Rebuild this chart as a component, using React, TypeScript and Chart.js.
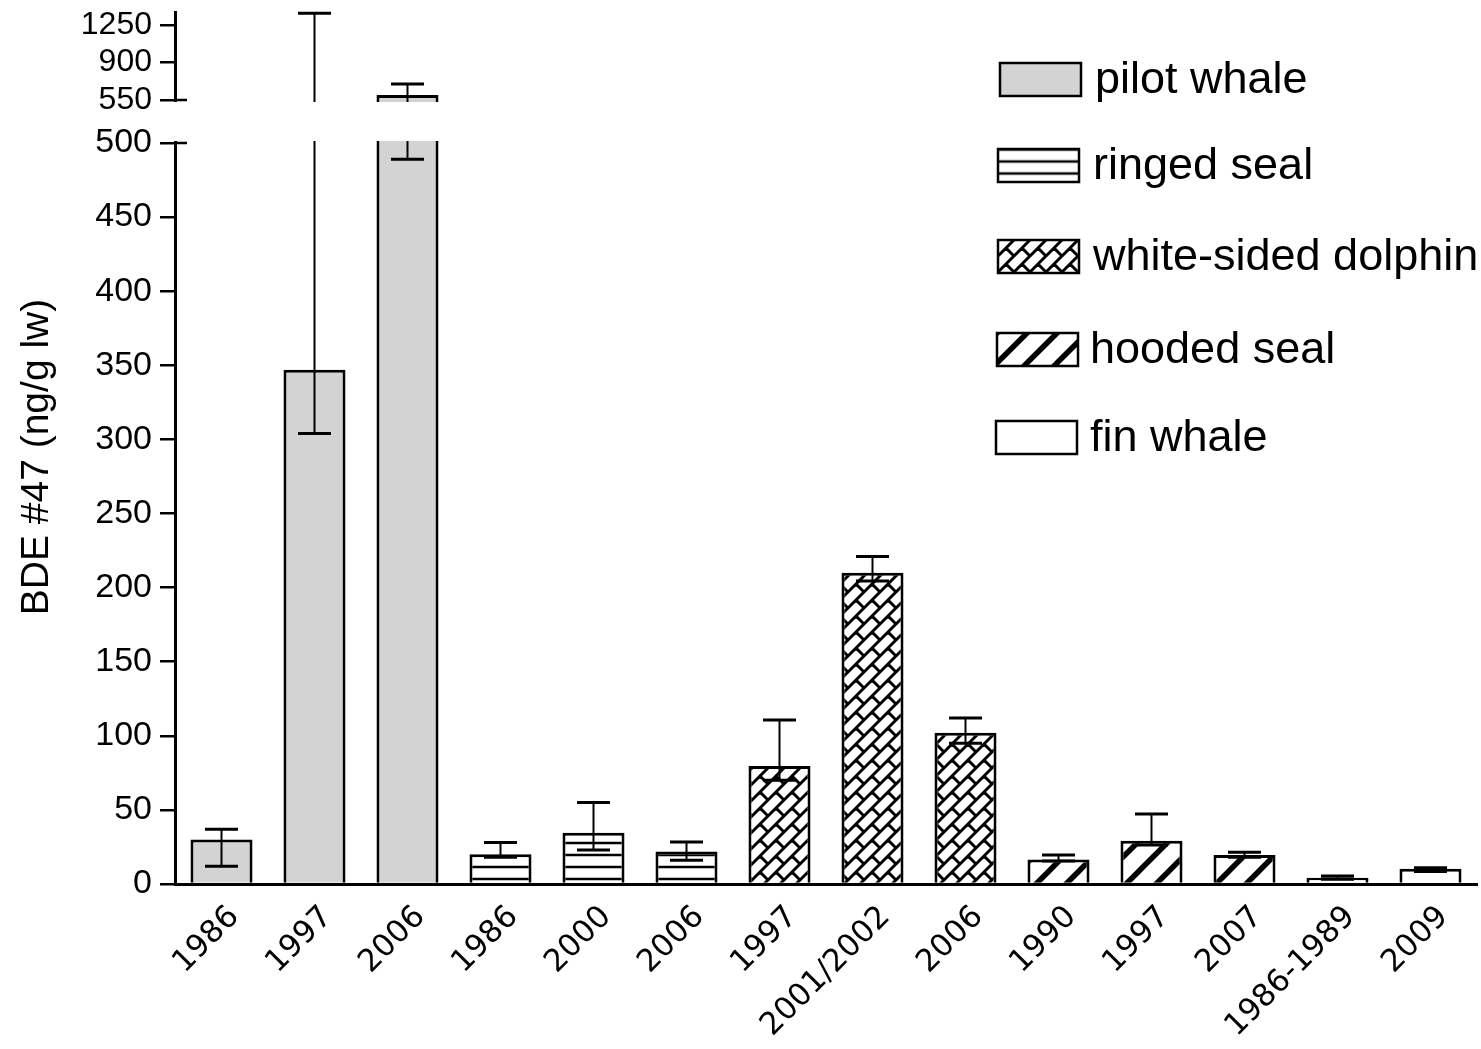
import React, { useEffect, useRef } from 'react';
import { Chart, registerables } from 'chart.js';

Chart.register(...registerables);

// ---------------- data ----------------
const categories = ['1986', '1997', '2006', '1986', '2000', '2006', '1997', '2001/2002', '2006', '1990', '1997', '2007', '1986-1989', '2009'];
const speciesNames = ['pilot whale', 'ringed seal', 'white-sided dolphin', 'hooded seal', 'fin whale'];
const speciesOfBar = [0, 0, 0, 1, 1, 1, 2, 2, 2, 3, 3, 3, 4, 4];
const meanValues = [30, 347, 597, 20, 34.6, 22, 79.6, 210, 102, 16.6, 29.2, 19.6, 4.3, 10.3];
const errorLow = [12, 304, 489, 18, 23, 16, 70, 204.5, 95, 15.6, 26.3, 18, 3.2, 8.5];
const errorHigh = [37, 1360, 700, 28, 55, 28.3, 110.7, 221, 112, 19.6, 47.2, 21.4, 5.4, 11];
const yTickValues = [0, 50, 100, 150, 200, 250, 300, 350, 400, 450, 500, 550, 900, 1250];
const yAxisTitle = 'BDE #47 (ng/g lw)';

// broken axis definition (display units)
const BREAK_LOW = 500;
const BREAK_HIGH = 550;
const GAP = 29;
const UPPER_SCALE = 0.0723;
const Y_MAX_DISPLAY = 588.4;

const toDisplay = (v: number) => (v <= BREAK_LOW ? v : BREAK_LOW + GAP + (v - BREAK_HIGH) * UPPER_SCALE);

// ---------------- layout / style ----------------
const W = 1481;
const H = 1049;
const legendLayout = [
  { x: 1000, y: 63, tx: 1095, shift: 0 },
  { x: 998, y: 149, tx: 1093, shift: 9.5 },
  { x: 998, y: 240, tx: 1093, shift: 0 },
  { x: 997, y: 333, tx: 1090, shift: 0 },
  { x: 996, y: 421, tx: 1090, shift: 0 },
];
const LEGEND_W = 81;
const LEGEND_H = 33;
const TITLE_POS = { x: 37, y: 457 };

function makePattern(size: number, draw: (g: CanvasRenderingContext2D, s: number) => void): CanvasPattern | string {
  const c = document.createElement('canvas');
  c.width = size;
  c.height = size;
  const g = c.getContext('2d');
  if (!g) return 'white';
  g.fillStyle = 'white';
  g.fillRect(0, 0, size, size);
  g.strokeStyle = 'black';
  draw(g, size);
  return g.createPattern(c, 'repeat') || 'white';
}

function buildFills(): (CanvasPattern | string)[] {
  const ringed = makePattern(12, (g, s) => {
    g.lineWidth = 2.5;
    g.beginPath();
    g.moveTo(0, 3);
    g.lineTo(s, 3);
    g.stroke();
  });
  const dolphin = makePattern(16, (g, S) => {
    g.lineWidth = 3;
    g.beginPath();
    for (const c of [0, S, 2 * S]) {
      g.moveTo(-3, c + 3);
      g.lineTo(c + 3, -3);
    }
    const segs = [
      [S / 2, S / 2, S, S],
      [-S / 2, -S / 2, 0, 0],
      [-S / 2, S / 2, 0, S],
      [S / 2, -S / 2, S, 0],
    ];
    for (const [a, b, c2, d] of segs) {
      g.moveTo(a, b);
      g.lineTo(c2, d);
    }
    g.stroke();
  });
  const hooded = makePattern(30, (g, P) => {
    g.lineWidth = 5.5;
    g.beginPath();
    for (const c of [0, P, 2 * P]) {
      g.moveTo(-4, c + 4);
      g.lineTo(c + 4, -4);
    }
    g.stroke();
  });
  return ['#d3d3d3', ringed, dolphin, hooded, '#ffffff'];
}

export default function App() {
  const ref = useRef<HTMLCanvasElement>(null);

  useEffect(() => {
    const canvas = ref.current;
    if (!canvas) return;
    const fills = buildFills();

    const datasets = speciesNames.map((name, s) => ({
      label: name,
      data: categories.map((_, i) => (speciesOfBar[i] === s ? toDisplay(meanValues[i]) : null)),
      backgroundColor: fills[s] as any,
      borderColor: '#000',
      borderWidth: 3,
      grouped: false,
      categoryPercentage: 1,
      barPercentage: 0.667,
    }));

    const breakPlugin = {
      id: 'breakAndErrors',
      afterDatasetsDraw(chart: any) {
        const ctx: CanvasRenderingContext2D = chart.ctx;
        const y = chart.scales.y;
        const area = chart.chartArea;
        ctx.save();
        ctx.strokeStyle = '#000';
        ctx.lineCap = 'butt';
        chart.data.datasets.forEach((ds: any, di: number) => {
          const meta = chart.getDatasetMeta(di);
          meta.data.forEach((el: any, i: number) => {
            if (ds.data[i] == null) return;
            const cx = el.x;
            const yl = y.getPixelForValue(toDisplay(errorLow[i]));
            const yh = y.getPixelForValue(toDisplay(errorHigh[i]));
            ctx.lineWidth = 2;
            ctx.beginPath();
            ctx.moveTo(cx, yl);
            ctx.lineTo(cx, yh);
            ctx.stroke();
            ctx.lineWidth = 3;
            ctx.beginPath();
            ctx.moveTo(cx - 16.5, yl);
            ctx.lineTo(cx + 16.5, yl);
            ctx.moveTo(cx - 16.5, yh);
            ctx.lineTo(cx + 16.5, yh);
            ctx.stroke();
          });
        });
        // axis break gap
        const yTop = y.getPixelForValue(toDisplay(BREAK_HIGH));
        const yBot = y.getPixelForValue(BREAK_LOW);
        ctx.fillStyle = '#ffffff';
        ctx.fillRect(area.left - 4, yTop + 2, 900, yBot - yTop - 4);
        ctx.lineWidth = 2.5;
        ctx.beginPath();
        ctx.moveTo(area.left - 1, yTop);
        ctx.lineTo(area.left + 12, yTop);
        ctx.moveTo(area.left - 1, yBot);
        ctx.lineTo(area.left + 12, yBot);
        ctx.stroke();
        ctx.restore();
      },
      afterDraw(chart: any) {
        const ctx: CanvasRenderingContext2D = chart.ctx;
        ctx.save();
        // y axis title
        ctx.save();
        ctx.translate(TITLE_POS.x, TITLE_POS.y);
        ctx.rotate(-Math.PI / 2);
        ctx.fillStyle = '#000';
        ctx.font = '39px "Liberation Sans", Arial, sans-serif';
        ctx.textAlign = 'center';
        ctx.textBaseline = 'middle';
        ctx.fillText(yAxisTitle, 0, 0);
        ctx.restore();
        // legend
        speciesNames.forEach((name, s) => {
          const L = legendLayout[s];
          ctx.save();
          ctx.translate(L.x, L.y + L.shift);
          ctx.fillStyle = fills[s] as any;
          ctx.fillRect(0, -L.shift, LEGEND_W, LEGEND_H);
          ctx.restore();
          ctx.strokeStyle = '#000';
          ctx.lineWidth = 2.5;
          ctx.strokeRect(L.x, L.y, LEGEND_W, LEGEND_H);
          ctx.fillStyle = '#000';
          ctx.font = '45px "Liberation Sans", Arial, sans-serif';
          ctx.textAlign = 'left';
          ctx.textBaseline = 'middle';
          ctx.fillText(name, L.tx, L.y + LEGEND_H / 2 + 1);
        });
        ctx.restore();
      },
    };

    const chart = new Chart(canvas, {
      type: 'bar',
      data: { labels: categories, datasets: datasets as any },
      options: {
        animation: false,
        responsive: false,
        events: [],
        layout: { padding: { top: 12, right: 4, left: 0, bottom: 0 } },
        plugins: { legend: { display: false }, tooltip: { enabled: false } },
        scales: {
          x: {
            type: 'category',
            offset: true,
            grid: { display: false, drawTicks: false },
            border: { display: true, color: '#000', width: 3 },
            ticks: {
              color: '#000',
              font: { family: '"DejaVu Sans", sans-serif', size: 31 },
              minRotation: 45,
              maxRotation: 45,
              autoSkip: false,
              padding: 15,
              labelOffset: 13,
            },
            afterFit: (s: any) => {
              s.height = 165;
              s.paddingLeft = 0;
              s.paddingRight = 0;
            },
          },
          y: {
            type: 'linear',
            min: 0,
            max: Y_MAX_DISPLAY,
            afterBuildTicks: (s: any) => {
              s.ticks = yTickValues.map((v) => ({ value: toDisplay(v) }));
            },
            ticks: {
              color: '#000',
              font: (c: any) => ({
                family: '"Liberation Sans", Arial, sans-serif',
                size: c.index != null && yTickValues[c.index] > BREAK_LOW ? 32 : 34,
              }),
              padding: 8,
              autoSkip: false,
              callback: (_v: any, idx: number) => String(yTickValues[idx]),
            },
            grid: { display: true, drawOnChartArea: false, drawTicks: true, tickLength: 15, color: '#000', lineWidth: 2.5 },
            border: { display: true, color: '#000', width: 3 },
            title: { display: false },
            afterFit: (s: any) => {
              s.width = 175;
              s.paddingTop = 0;
              s.paddingBottom = 0;
            },
          },
        },
      } as any,
      plugins: [breakPlugin],
    });

    return () => chart.destroy();
  }, []);

  return (
    <canvas
      ref={ref}
      width={W}
      height={H}
      style={{ position: 'absolute', left: 0, top: 0, width: W + 'px', height: H + 'px', display: 'block' }}
    />
  );
}
